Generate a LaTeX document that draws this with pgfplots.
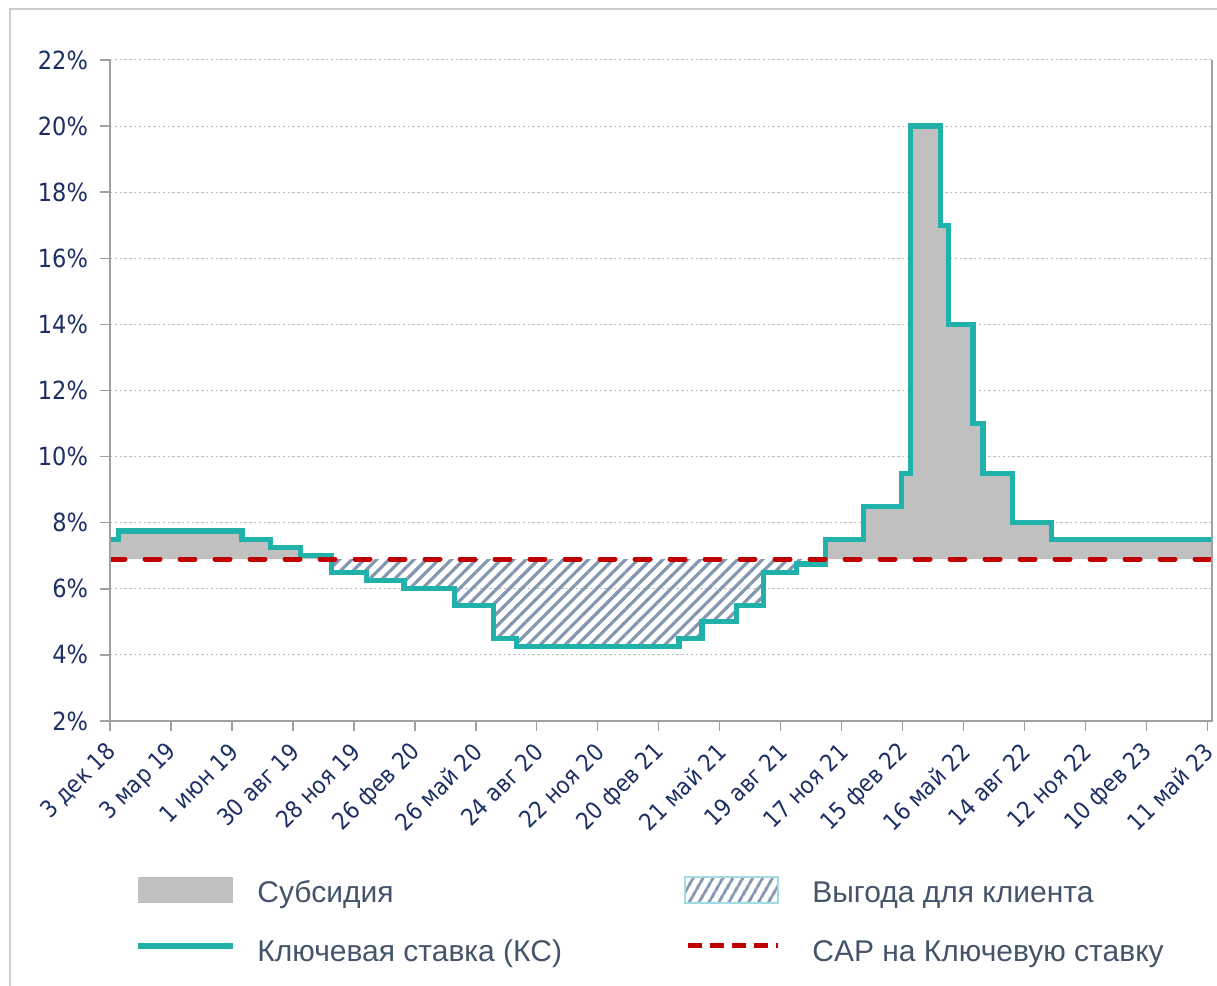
\documentclass[border=0pt]{standalone}
\usepackage{fontspec}
\setmainfont{Liberation Sans}
\newfontfamily\tickfont{DejaVu Sans Condensed}
\usepackage{pgfplots}
\pgfplotsset{compat=1.18}
\usetikzlibrary{patterns.meta}
\definecolor{teal1}{RGB}{32,178,170}
\definecolor{capred}{RGB}{192,0,0}
\definecolor{hatch}{RGB}{132,151,176}
\definecolor{subs}{RGB}{192,192,192}
\definecolor{navy}{RGB}{28,46,100}
\definecolor{legtext}{RGB}{68,84,106}
\definecolor{framegray}{RGB}{205,205,205}
\definecolor{axgray}{RGB}{160,160,160}
\definecolor{hatchborder}{RGB}{160,220,225}

\pgfplotstableread{
day rate
0 7.5
12 7.75
195 7.5
237 7.25
281 7.0
327 6.5
379 6.25
434 6.0
509 5.5
566 4.5
600 4.25
840 4.5
874 5.0
925 5.5
965 6.5
1014 6.75
1056 7.5
1113 8.5
1169 9.5
1182 20
1226 17
1238 14
1274 11
1289 9.5
1332 8.0
1390 7.5
1627 7.5
}\ratetable

\begin{document}
\begin{tikzpicture}[x=1pt,y=1pt]
\useasboundingbox (0,0) rectangle (608.5,493);
\draw[framegray, line width=0.8pt] (5,0) -- (5,488.5) -- (608.5,488.5);
\begin{axis}[
 at={(55pt,132.5pt)}, anchor=south west,
 width=551pt, height=330.5pt, scale only axis,
 xmin=0, xmax=1627, ymin=2, ymax=22,
 axis line style={draw=none},
 xtick={0,90,...,1620},
 xticklabels={3 дек 18, 3 мар 19, 1 июн 19, 30 авг 19, 28 ноя 19, 26 фев 20, 26 май 20, 24 авг 20, 22 ноя 20, 20 фев 21, 21 май 21, 19 авг 21, 17 ноя 21, 15 фев 22, 16 май 22, 14 авг 22, 12 ноя 22, 10 фев 23, 11 май 23},
 ytick={2,4,...,22},
 yticklabels={2\%,4\%,6\%,8\%,10\%,12\%,14\%,16\%,18\%,20\%,22\%},
 tick align=outside, xtick pos=bottom, ytick pos=left,
 major tick length=5pt,
 tick style={axgray, line width=0.75pt},
 ymajorgrids,
 major grid style={draw=black!25, dash pattern=on 1.2pt off 1.2pt, line width=0.5pt},
 tick label style={text=navy},
 yticklabel style={font=\tickfont\fontsize{12.5}{14}\selectfont, xshift=-2.5pt},
 xticklabel style={font=\tickfont\fontsize{11.8}{14}\selectfont, xshift=3.5pt, yshift=-6pt, rotate=45, anchor=east},
]
% Subsidy (rate above CAP), part 1
\addplot[fill=subs, draw=none, const plot, forget plot] coordinates {(0,7.5) (12,7.75) (195,7.5) (237,7.25) (281,7.0) (327,6.9) (0,6.9)};
% Client benefit (rate below CAP)
\addplot[pattern={Lines[angle=45,distance=4.4pt,line width=1.6pt]}, pattern color=hatch, draw=none, const plot, forget plot] coordinates {(327,6.5) (379,6.25) (434,6.0) (509,5.5) (566,4.5) (600,4.25) (840,4.5) (874,5.0) (925,5.5) (965,6.5) (1014,6.75) (1056,6.9) (327,6.9)};
% Subsidy, part 2
\addplot[fill=subs, draw=none, const plot, forget plot] coordinates {(1056,7.5) (1113,8.5) (1169,9.5) (1182,20) (1226,17) (1238,14) (1274,11) (1289,9.5) (1332,8.0) (1390,7.5) (1627,6.9) (1056,6.9)};
\addplot[teal1, line width=2.6pt, const plot] table[x=day,y=rate]{\ratetable};
\addplot[capred, line width=2.5pt, dash pattern=on 7.5pt off 10pt, line cap=round] coordinates {(0,6.9) (1627,6.9)};
\end{axis}
\draw[axgray, line width=0.75pt] (current axis.north west) -- (current axis.south west) -- (current axis.south east) -- (current axis.north east);
% legend
\fill[subs] (69,41.5) rectangle (116.5,54.5);
\node[anchor=base west, inner sep=0, text=legtext, font=\fontsize{15}{17}\selectfont] at (128.5,41.5) {Субсидия};
\draw[teal1, line width=2.6pt] (69,20) -- (116.5,20);
\node[anchor=base west, inner sep=0, text=legtext, font=\fontsize{15}{17}\selectfont] at (128.5,12) {Ключевая ставка (КС)};
\fill[pattern={Lines[angle=60,distance=4pt,line width=1.5pt]}, pattern color=hatch] (342.5,41.5) rectangle (389,54.5);
\draw[hatchborder, line width=0.8pt] (342.5,41.5) rectangle (389,54.5);
\node[anchor=base west, inner sep=0, text=legtext, font=\fontsize{15}{17}\selectfont] at (406,41.5) {Выгода для клиента};
\draw[capred, line width=2.5pt, dash pattern=on 7pt off 4pt] (344,20) -- (389,20);
\node[anchor=base west, inner sep=0, text=legtext, font=\fontsize{15}{17}\selectfont] at (406,12) {CAP на Ключевую ставку};
\end{tikzpicture}
\end{document}
